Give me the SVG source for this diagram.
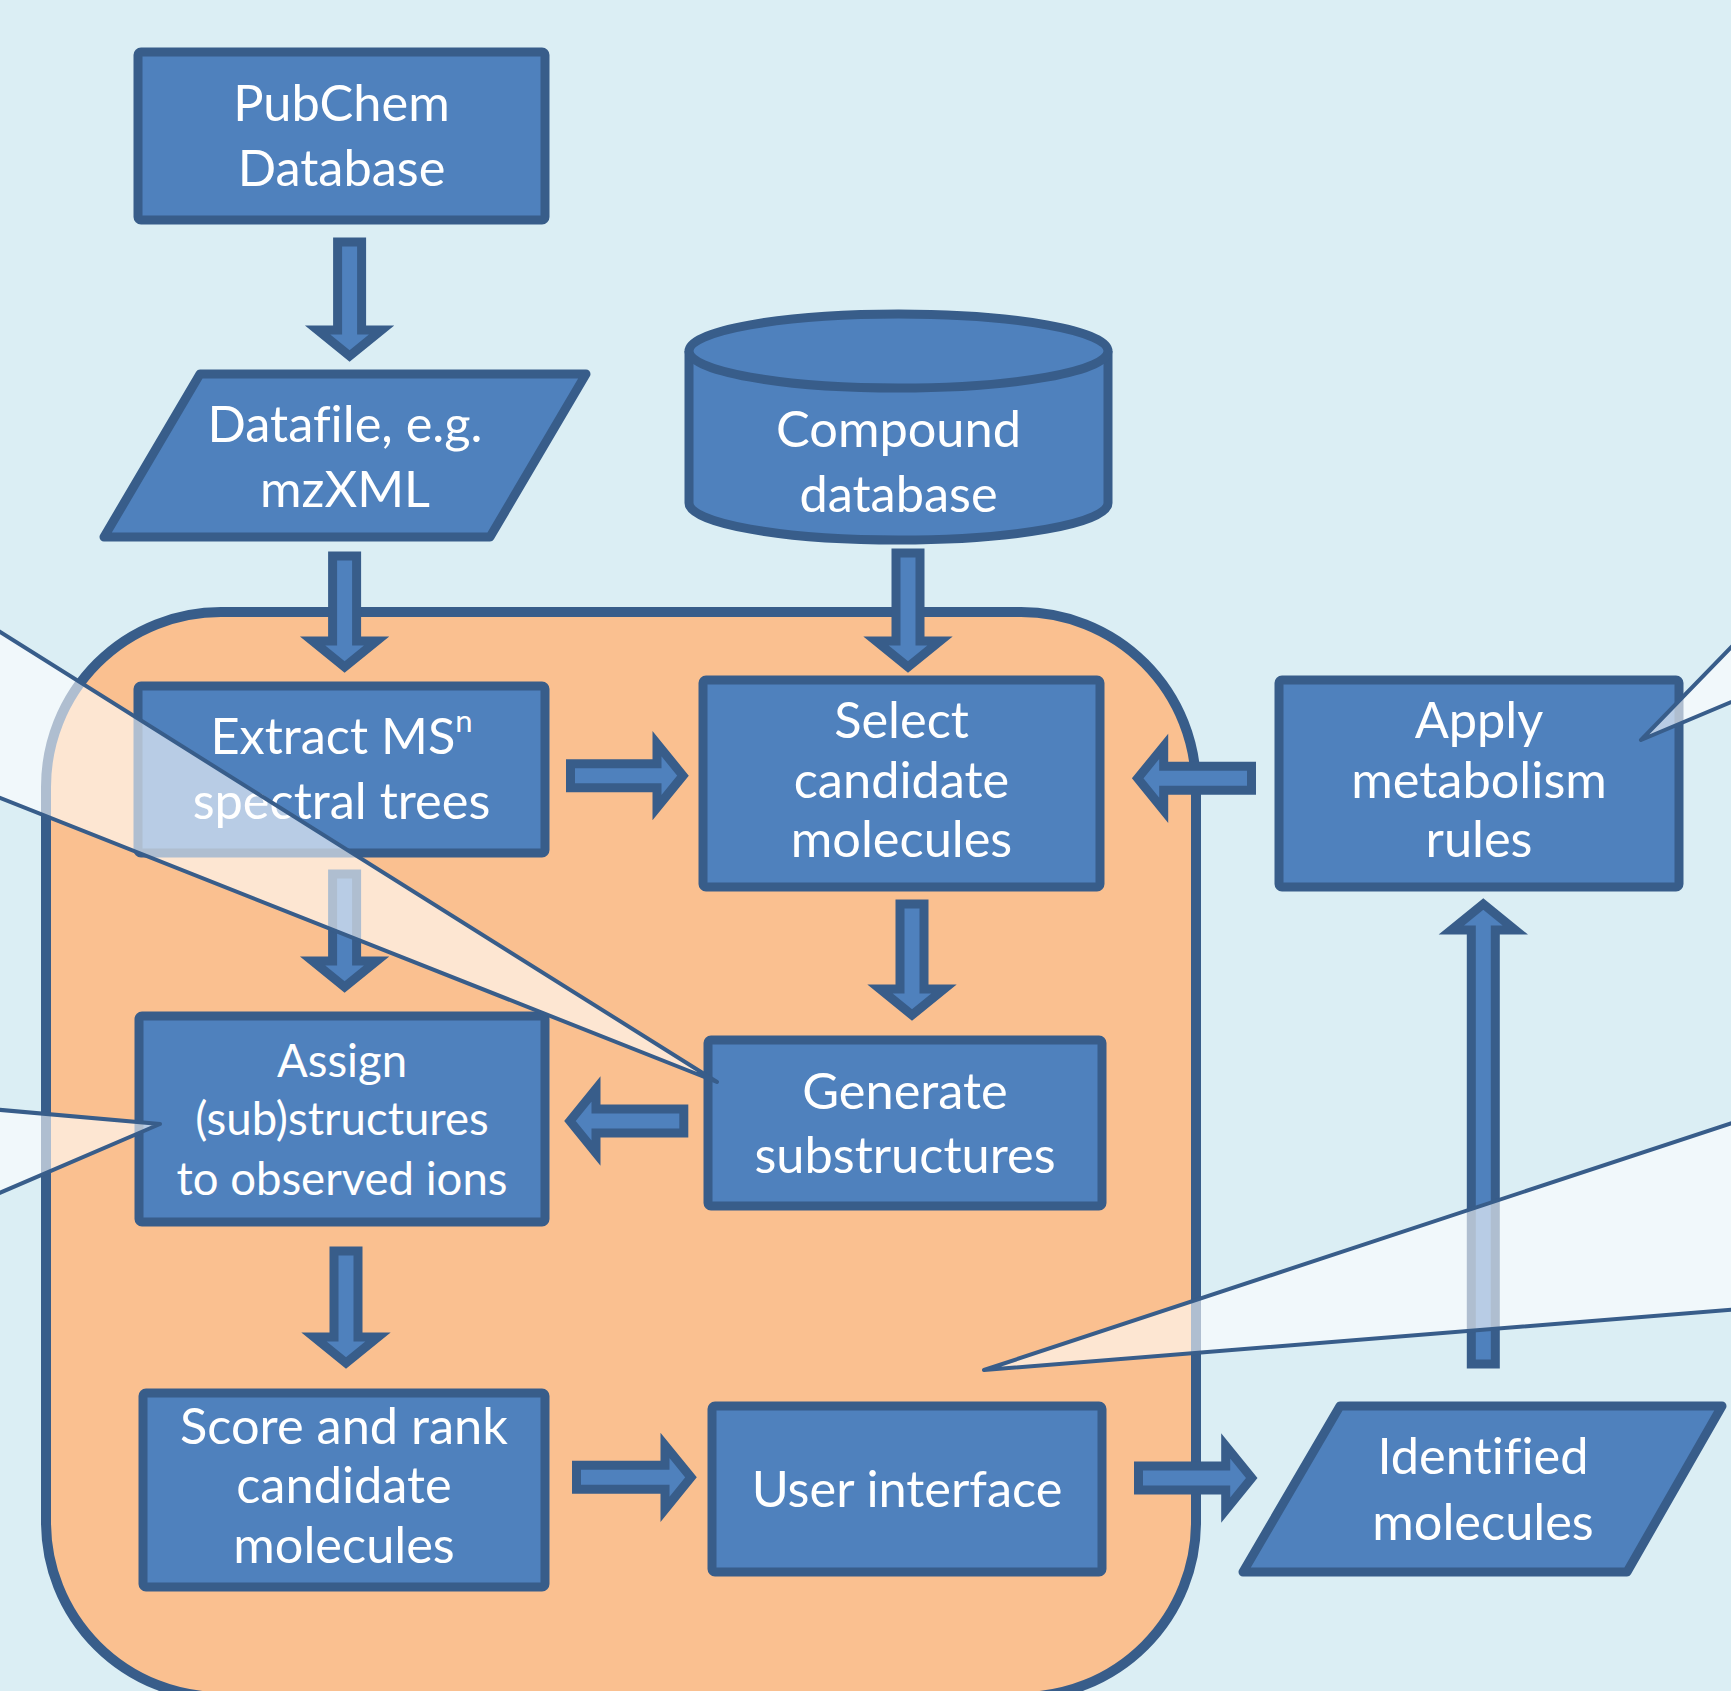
<svg xmlns="http://www.w3.org/2000/svg" width="1731" height="1691" viewBox="0 0 1731 1691">
<style>
.bg{fill:#DBEEF4}
.zone{fill:#FAC090;stroke:#385D8A;stroke-width:10}
.box{fill:#4F81BD;stroke:#385D8A;stroke-width:9;stroke-linejoin:round}
.arr{fill:#4F81BD;stroke:#385D8A;stroke-width:9;stroke-linejoin:miter;stroke-miterlimit:6}
.call{fill:#FFFFFF;fill-opacity:0.6;stroke:#385D8A;stroke-width:4;stroke-linejoin:round}
text{font-family:Lato,"Open Sans","Liberation Sans",sans-serif;fill:#FFFFFF;text-anchor:middle;font-size:50.5px;font-variant-ligatures:none}
.sm{font-size:45.5px}
</style>
<rect class="bg" x="0" y="0" width="1731" height="1691"/>
<g id="zone">
<rect class="zone" x="46" y="612" width="1150" height="1085" rx="175" ry="175"/>
</g>
<g id="pubchem">
<rect class="box" x="138" y="52" width="407" height="168" rx="3"/>
<text><tspan x="341.5" y="121">PubChem</tspan><tspan x="341.5" y="186">Database</tspan></text>
</g>
<g id="datafile">
<polygon class="box" points="200,374 586,374 490,537 104,537"/>
<text><tspan x="345" y="442">Datafile, e.g.</tspan><tspan x="345" y="507">mzXML</tspan></text>
</g>
<g id="compound-db">
<path class="box" d="M689,351 V503 A209.5,37 0 0 0 1108,503 V351"/>
<ellipse class="box" cx="898.5" cy="351" rx="209.5" ry="37"/>
<text><tspan x="898.5" y="447">Compound</tspan><tspan x="898.5" y="512">database</tspan></text>
</g>
<g id="extract">
<rect class="box" x="138" y="686" width="407" height="167" rx="3"/>
<text><tspan x="341.5" y="754">Extract MS<tspan font-size="31" dy="-22">n</tspan></tspan><tspan x="341.5" y="819">spectral trees</tspan></text>
</g>
<g id="select">
<rect class="box" x="703" y="680" width="397" height="207" rx="3"/>
<text><tspan x="901.5" y="738">Select</tspan><tspan x="901.5" y="798">candidate</tspan><tspan x="901.5" y="857">molecules</tspan></text>
</g>
<g id="apply">
<rect class="box" x="1279" y="680" width="400" height="207" rx="3"/>
<text><tspan x="1479" y="738">Apply</tspan><tspan x="1479" y="798">metabolism</tspan><tspan x="1479" y="857">rules</tspan></text>
</g>
<g id="generate">
<rect class="box" x="708" y="1040" width="394" height="166" rx="3"/>
<text><tspan x="905" y="1109">Generate</tspan><tspan x="905" y="1173">substructures</tspan></text>
</g>
<g id="assign">
<rect class="box" x="139" y="1016" width="406" height="206" rx="3"/>
<text class="sm"><tspan x="342" y="1077">Assign</tspan><tspan x="342" y="1135">(sub)structures</tspan><tspan x="342" y="1195">to observed ions</tspan></text>
</g>
<g id="score">
<rect class="box" x="143" y="1393" width="402" height="194" rx="3"/>
<text><tspan x="344" y="1444">Score and rank</tspan><tspan x="344" y="1503">candidate</tspan><tspan x="344" y="1563">molecules</tspan></text>
</g>
<g id="ui">
<rect class="box" x="712" y="1406" width="390" height="166" rx="3"/>
<text x="907" y="1507">User interface</text>
</g>
<g id="identified">
<polygon class="box" points="1340,1406 1722,1406 1627,1572 1243,1572"/>
<text><tspan x="1483" y="1474">Identified</tspan><tspan x="1483" y="1540">molecules</tspan></text>
</g>
<g id="connectors">
<polygon class="arr" points="337.6,242 361.6,242 361.6,330 381.6,330 349.6,356 317.6,330 337.6,330"/>
<polygon class="arr" points="332.6,556 356.6,556 356.6,641 376.6,641 344.6,667 312.6,641 332.6,641"/>
<polygon class="arr" points="896,553 920,553 920,641 940,641 908,667 876,641 896,641"/>
<polygon class="arr" points="332.6,874 356.6,874 356.6,961 376.6,961 344.6,987 312.6,961 332.6,961"/>
<polygon class="arr" points="900,904 924,904 924,989 944,989 912,1015 880,989 900,989"/>
<polygon class="arr" points="334,1251 358,1251 358,1337 378,1337 346,1363 314,1337 334,1337"/>
<polygon class="arr" points="1471.3,1364 1495.3,1364 1495.3,930 1515.3,930 1483.3,904 1451.3,930 1471.3,930"/>
<polygon class="arr" points="570.5,763.7 657,763.7 657,743.7 683,775.7 657,807.7 657,787.7 570.5,787.7"/>
<polygon class="arr" points="576.5,1465.3 665,1465.3 665,1445.3 691,1477.3 665,1509.3 665,1489.3 576.5,1489.3"/>
<polygon class="arr" points="1138.5,1466 1225.7,1466 1225.7,1446 1251.7,1478 1225.7,1510 1225.7,1490 1138.5,1490"/>
<polygon class="arr" points="1251.5,766.3 1163.7,766.3 1163.7,746.3 1137.7,778.3 1163.7,810.3 1163.7,790.3 1251.5,790.3"/>
<polygon class="arr" points="683.8,1109 596,1109 596,1089 570,1121 596,1153 596,1133 683.8,1133"/>
</g>
<g id="callouts">
<polygon class="call" points="-10,625.7 717,1082 -10,794"/>
<polygon class="call" points="-10,1109 160,1124 -10,1197"/>
<polygon class="call" points="1741,637 1641,740 1741,698"/>
<polygon class="call" points="1741,1120 984,1370 1741,1309"/>
</g>
</svg>
